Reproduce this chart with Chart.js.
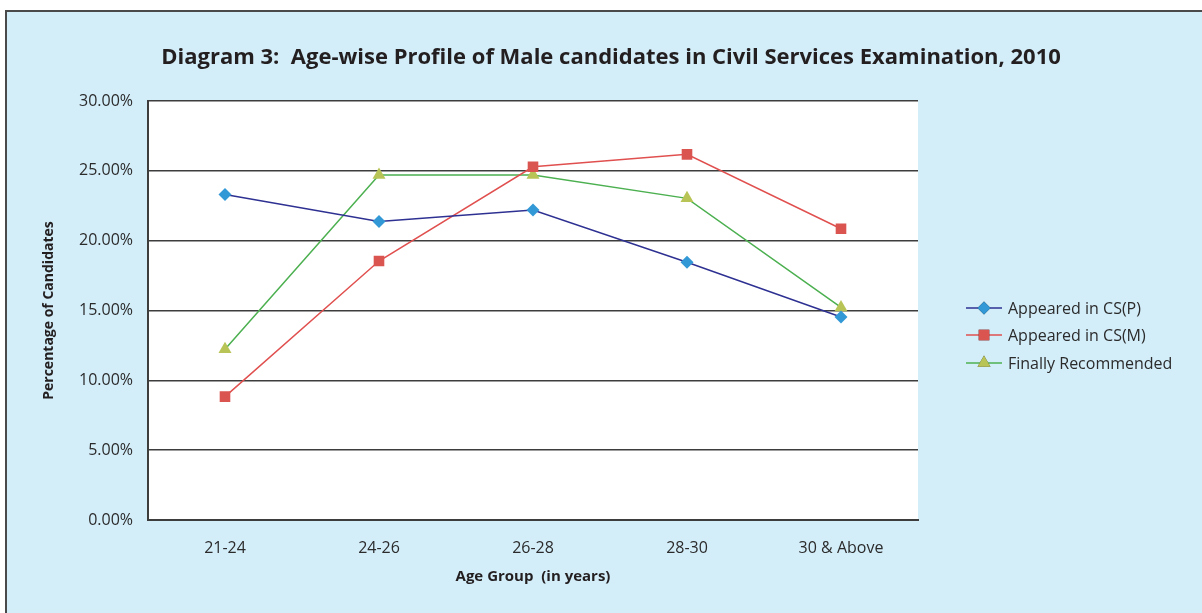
<!DOCTYPE html>
<html>
<head>
<meta charset="utf-8">
<title>Age-wise Profile of Male candidates</title>
<script src="https://cdn.jsdelivr.net/npm/chart.js@4.4.1/dist/chart.umd.min.js"></script>
<style>
    html, body { margin: 0; padding: 0; background: #ffffff; overflow: hidden; }
    .frame {
        position: absolute;
        left: 5px; top: 10px;
        width: 1220px; height: 640px;
        background: #d3edf9;
        border-left: 2px solid #4a4a4a;
        border-top: 2px solid #4a4a4a;
    }
    .wrap { position: absolute; left: 0; top: 0; width: 1202px; height: 613px; }
</style>
</head>
<body>
<div class="frame"></div>
<div class="wrap"><canvas id="ageChart"></canvas></div>

<script>
/* =============================================
   Age-wise profile of male candidates, CSE 2010
   ============================================= */

const TITLE_TEXT = 'Diagram 3:  Age-wise Profile of Male candidates in Civil Services Examination, 2010';

const ageGroups = ['21-24', '24-26', '26-28', '28-30', '30 & Above'];

// percentages of candidates in each age group
const appearedPrelims = [23.31, 21.38, 22.19, 18.45, 14.53];
const appearedMains = [8.83, 18.54, 25.29, 26.18, 20.85];
const finallyRecommended = [12.22, 24.70, 24.70, 23.03, 15.22];

const yTicks = [0, 5, 10, 15, 20, 25, 30];

const FONT = "'Open Sans', Lato, sans-serif";
const TEXT_COLOR = '#2b2b2b';
const GRID_COLOR = '#3d3d3d';

/**
 * White plot background, title and a line+marker legend on the right
 */
const decorPlugin = {
    id: 'decor',
    beforeDraw(chart) {
        const { ctx, chartArea } = chart;
        ctx.save();
        ctx.fillStyle = '#ffffff';
        ctx.fillRect(chartArea.left, chartArea.top, chartArea.right - chartArea.left, chartArea.bottom - chartArea.top);
        ctx.restore();
    },
    afterDraw(chart) {
        const { ctx } = chart;
        ctx.save();

        // title
        ctx.fillStyle = '#231f20';
        ctx.font = `bold 22px ${FONT}`;
        ctx.textAlign = 'center';
        ctx.textBaseline = 'middle';
        ctx.fillText(TITLE_TEXT, 611, 58);

        // legend
        const lineX0 = 966, lineX1 = 1002, textX = 1008;
        const rowY = [308, 335, 363];
        chart.data.datasets.forEach((ds, i) => {
            const y = rowY[i];
            ctx.strokeStyle = ds.borderColor;
            ctx.lineWidth = 1.5;
            ctx.beginPath();
            ctx.moveTo(lineX0, y);
            ctx.lineTo(lineX1, y);
            ctx.stroke();

            Chart.helpers.drawPoint(ctx, {
                pointStyle: ds.pointStyle,
                radius: ds.pointRadius,
                rotation: 0,
                borderWidth: 0
            }, (lineX0 + lineX1) / 2, y);
            ctx.fillStyle = ds.pointBackgroundColor;
            ctx.fill();

            ctx.fillStyle = TEXT_COLOR;
            ctx.font = `16px ${FONT}`;
            ctx.textAlign = 'left';
            ctx.textBaseline = 'middle';
            ctx.fillText(ds.label, textX, y + 1);
        });
        ctx.restore();
    }
};

const ctx = document.getElementById('ageChart');

new Chart(ctx, {
    type: 'line',
    data: {
        labels: ageGroups,
        datasets: [
            {
                label: 'Appeared in CS(P)',
                data: appearedPrelims,
                borderColor: '#2e3192',
                borderWidth: 1.5,
                pointStyle: 'rectRot',
                pointRadius: 6.5,
                pointBackgroundColor: '#3399d6',
                pointBorderColor: '#3399d6',
                pointBorderWidth: 0,
                tension: 0
            },
            {
                label: 'Appeared in CS(M)',
                data: appearedMains,
                borderColor: '#e0504f',
                borderWidth: 1.5,
                pointStyle: 'rect',
                pointRadius: 7.5,
                pointBackgroundColor: '#da5450',
                pointBorderColor: '#da5450',
                pointBorderWidth: 0,
                tension: 0
            },
            {
                label: 'Finally Recommended',
                data: finallyRecommended,
                borderColor: '#4cb050',
                borderWidth: 1.5,
                pointStyle: 'triangle',
                pointRadius: 7.5,
                pointBackgroundColor: '#b8c456',
                pointBorderColor: '#b8c456',
                pointBorderWidth: 0,
                tension: 0
            }
        ]
    },
    options: {
        responsive: true,
        maintainAspectRatio: false,
        animation: false,
        layout: {
            padding: { top: 101, right: 284, bottom: 0, left: 0 }
        },
        plugins: {
            legend: { display: false },
            title: { display: false },
            tooltip: { enabled: false }
        },
        scales: {
            x: {
                offset: true,
                afterFit(scale) { scale.height = 93; },
                grid: { display: false, drawTicks: false },
                border: { display: true, color: GRID_COLOR, width: 2 },
                ticks: {
                    color: TEXT_COLOR,
                    font: { family: FONT, size: 16 },
                    padding: 19,
                    maxRotation: 0
                },
                title: {
                    display: true,
                    text: 'Age Group  (in years)',
                    color: '#231f20',
                    font: { family: FONT, size: 15, weight: 'bold' },
                    padding: { top: 0, bottom: 27 }
                }
            },
            y: {
                min: 0,
                max: 30,
                afterFit(scale) { scale.width = 148; },
                afterBuildTicks(scale) {
                    scale.ticks = yTicks.map(v => ({ value: v }));
                },
                grid: { color: GRID_COLOR, lineWidth: 1.5, drawTicks: false },
                border: { display: true, color: GRID_COLOR, width: 2 },
                ticks: {
                    color: TEXT_COLOR,
                    font: { family: FONT, size: 16 },
                    padding: 15,
                    callback: v => v.toFixed(2) + '%'
                },
                title: {
                    display: true,
                    text: 'Percentage of Candidates',
                    color: '#231f20',
                    font: { family: FONT, size: 14, weight: 'bold' },
                    padding: { top: 41, bottom: 0 }
                }
            }
        }
    },
    plugins: [decorPlugin]
});
</script>
</body>
</html>
